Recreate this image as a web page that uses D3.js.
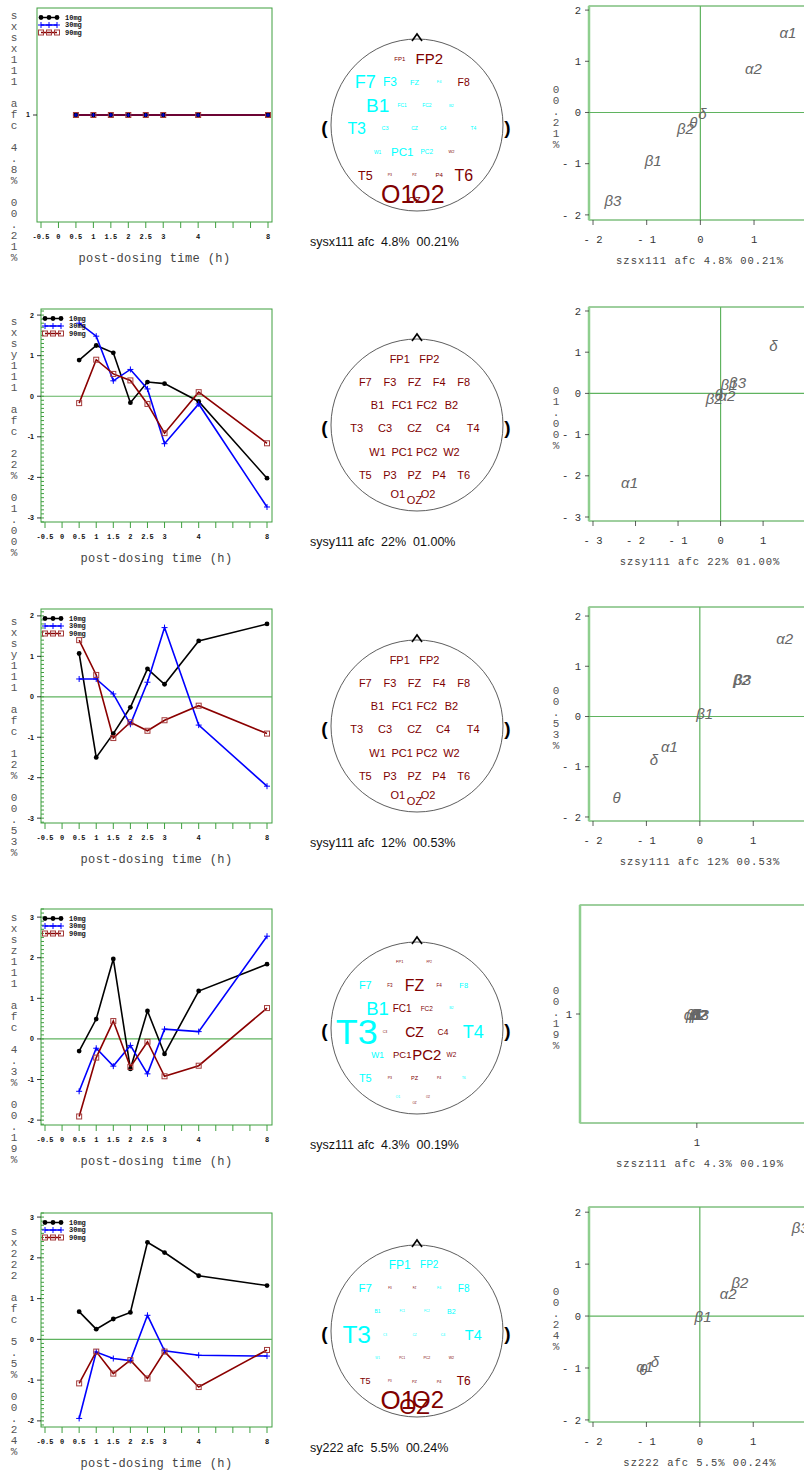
<!DOCTYPE html>
<html>
<head>
<meta charset="utf-8">
<script src="https://cdn.jsdelivr.net/npm/d3@7"></script>
<style>
body { margin: 0; background: #fff; }
svg { display: block; }
text { font-family: "Liberation Sans", Arial, sans-serif; }
.mono { font-family: "Liberation Mono", "DejaVu Sans Mono", monospace; }
</style>
</head>
<body>
<div id="chart"></div>
<script>
var w = 804, h = 1474;

// ---- time course data ----
var timeTicks = ["-0.5", "0", "0.5", "1", "1.5", "2", "2.5", "3", "", "4", "", "", "", "8"];
var times = ["0.5", "1", "1.5", "2", "2.5", "3", "4", "8"];
var doses = ["10mg", "30mg", "90mg"];

var r1_10mg = [1, 1, 1, 1, 1, 1, 1, 1];
var r1_30mg = [1, 1, 1, 1, 1, 1, 1, 1];
var r1_90mg = [1, 1, 1, 1, 1, 1, 1, 1];
var r2_10mg = [0.89, 1.25, 1.07, -0.16, 0.35, 0.31, -0.13, -2.02];
var r2_30mg = [1.80, 1.48, 0.38, 0.66, 0.18, -1.17, -0.19, -2.73];
var r2_90mg = [-0.17, 0.90, 0.55, 0.39, -0.19, -0.91, 0.10, -1.16];
var r3_10mg = [1.07, -1.50, -0.91, -0.26, 0.69, 0.31, 1.38, 1.80];
var r3_30mg = [0.44, 0.44, 0.07, -0.68, 0.36, 1.71, -0.70, -2.21];
var r3_90mg = [1.40, 0.54, -1.02, -0.63, -0.84, -0.58, -0.22, -0.91];
var r4_10mg = [-0.30, 0.49, 1.97, -0.74, 0.69, -0.37, 1.18, 1.84];
var r4_30mg = [-1.29, -0.23, -0.67, -0.16, -0.86, 0.24, 0.18, 2.53];
var r4_90mg = [-1.91, -0.46, 0.44, -0.69, -0.07, -0.92, -0.66, 0.76];
var r5_10mg = [0.68, 0.25, 0.50, 0.66, 2.38, 2.13, 1.56, 1.32];
var r5_30mg = [-1.94, -0.31, -0.47, -0.52, 0.59, -0.28, -0.39, -0.41];
var r5_90mg = [-1.08, -0.30, -0.84, -0.51, -0.96, -0.30, -1.17, -0.26];

var yTicks1 = [1];
var yTicks23 = [-3, -2, -1, 0, 1, 2];
var yTicks45 = [-2, -1, 0, 1, 2, 3];

// ---- names ----
var capNames = ["sysx111", "sysy111", "sysy111", "sysz111", "sy222"];
var yNames = ["sxsx111", "sxsy111", "sxsy111", "sxsz111", "sx222"];
var zNames = ["szsx111", "szsy111", "szsy111", "szsz111", "sz222"];
var pctA = ["4.8%", "22%", "12%", "4.3%", "5.5%"];
var pctB = ["00.21%", "01.00%", "00.53%", "00.19%", "00.24%"];

// ---- electrode weights (sign = colour, magnitude = label size) ----
var electrodes = ["FP1", "FP2", "F7", "F3", "FZ", "F4", "F8", "B1", "FC1", "FC2", "B2",
  "T3", "C3", "CZ", "C4", "T4", "W1", "PC1", "PC2", "W2", "T5", "P3", "PZ", "P4", "T6", "O1", "OZ", "O2"];
var head1 = [0.55, 1.36, -1.64, -1.09, -0.68, -0.36, 0.95, -1.73, -0.45, -0.45, -0.36,
  -1.45, -0.5, -0.45, -0.45, -0.45, -0.45, -1.05, -0.59, 0.36, 1.14, 0.32, 0.32, 0.55, 1.45, 2.27, 0.82, 2.27];
var head2 = [1, 1, 1, 1, 1, 1, 1, 1, 1, 1, 1, 1, 1, 1, 1, 1, 1, 1, 1, 1, 1, 1, 1, 1, 1, 1, 1, 1];
var head3 = [1, 1, 1, 1, 1, 1, 1, 1, 1, 1, 1, 1, 1, 1, 1, 1, 1, 1, 1, 1, 1, 1, 1, 1, 1, 1, 1, 1];
var head4 = [0.36, 0.27, -1.0, 0.41, 1.45, 0.41, -0.68, -1.68, 0.91, 0.59, -0.32,
  -3.27, 0.32, 1.27, 0.77, -1.64, -0.77, 0.86, 1.36, 0.59, -1.0, 0.32, 0.5, 0.32, -0.32, -0.32, 0.27, 0.27];
var head5 = [-1.09, -0.91, -1.05, 0.27, 0.27, -0.32, -0.91, -0.45, -0.27, -0.27, -0.64,
  -2.23, -0.27, -0.27, -0.32, -1.32, -0.27, 0.27, 0.32, 0.32, 0.82, 0.27, 0.36, 0.36, 1.09, 2.36, 2.0, 2.18];

// ---- factor map (right column) ----
var bands = ["α1", "α2", "β1", "β2", "β3", "δ", "θ"];
var s1x = [1.63, 0.99, -0.88, -0.28, -1.63, 0.04, -0.13];
var s1y = [1.55, 0.86, -0.94, -0.31, -1.73, -0.02, -0.20];
var s2x = [-2.14, 0.15, 0.20, -0.15, 0.40, 1.24, -0.05];
var s2y = [-2.16, -0.05, 0.20, -0.12, 0.25, 1.16, -0.03];
var s3x = [-0.57, 1.59, 0.09, 0.78, 0.80, -0.86, -1.56];
var s3y = [-0.61, 1.54, 0.06, 0.74, 0.73, -0.87, -1.62];
var s4x = [0.96, 1.02, 0.98, 1.01, 1.03, 1.0, 0.99];
var s4y = [0.99, 0.99, 0.99, 0.99, 0.99, 0.99, 0.99];
var s5x = [-1.03, 0.53, 0.06, 0.75, 1.88, -0.84, -1.06];
var s5y = [-0.98, 0.42, -0.02, 0.65, 1.71, -0.88, -1.04];

var sxTicks = [[-2, -1, 0, 1], [-3, -2, -1, 0, 1], [-2, -1, 0, 1], [1], [-2, -1, 0, 1]];
var syTicks = [[-2, -1, 0, 1, 2], [-3, -2, -1, 0, 1, 2], [-2, -1, 0, 1, 2], [1], [-2, -1, 0, 1, 2]];

// ---- layout ----
var leftLay = [
  { x0: 37, x1: 272, top: 8, bottom: 222, p0: 41, p1: 268, dom: [0, 2], minor: false },
  { x0: 41, x1: 272, top: 309, bottom: 522, p0: 45, p1: 267, dom: [-3.1, 2.15], minor: true },
  { x0: 41, x1: 272, top: 609, bottom: 823, p0: 45, p1: 267, dom: [-3.12, 2.17], minor: true },
  { x0: 41, x1: 272, top: 909, bottom: 1125, p0: 45, p1: 267, dom: [-2.12, 3.2], minor: true },
  { x0: 41, x1: 272, top: 1213, bottom: 1427, p0: 45, p1: 267, dom: [-2.15, 3.1], minor: true }
];
var headCy = [125, 425, 726, 1028, 1331];
var headCx = 417;
var rightLay = [
  { x0: 589, x1: 812, top: 6, bottom: 220, dx: [-2.075, 2.08], dy: [-2.1, 2.08], zero: true },
  { x0: 589, x1: 812, top: 307, bottom: 521, dx: [-3.094, 2.15], dy: [-3.097, 2.097], zero: true },
  { x0: 589, x1: 812, top: 607, bottom: 821, dx: [-2.075, 2.1], dy: [-2.08, 2.18], zero: true },
  { x0: 580, x1: 816, top: 905, bottom: 1123, dx: [0, 2.02], dy: [0, 2], zero: false },
  { x0: 589, x1: 812, top: 1207, bottom: 1422, dx: [-2.075, 2.1], dy: [-2.04, 2.1], zero: true }
];

var series = [
  [r1_10mg, r1_30mg, r1_90mg],
  [r2_10mg, r2_30mg, r2_90mg],
  [r3_10mg, r3_30mg, r3_90mg],
  [r4_10mg, r4_30mg, r4_90mg],
  [r5_10mg, r5_30mg, r5_90mg]
];
var yTickSets = [yTicks1, yTicks23, yTicks23, yTicks45, yTicks45];
var heads = [head1, head2, head3, head4, head5];
var scat = [[s1x, s1y], [s2x, s2y], [s3x, s3y], [s4x, s4y], [s5x, s5y]];

var doseColor = ["#000000", "#0000ff", "#8b0000"];
var doseMark = ["circle", "plus", "square"];
var green = "#3f9f3f";
var lightGreen = "#5fb35f";

var svg = d3.select("#chart").append("svg").attr("width", w).attr("height", h);

function stacked(g, str, x, cy, step, cls, size) {
  var chars = str.split("");
  var y0 = cy - (chars.length - 1) * step / 2;
  g.selectAll(null).data(chars).enter().append("text")
    .attr("class", cls)
    .attr("x", x)
    .attr("y", function(d, i) { return y0 + i * step; })
    .attr("dy", "0.35em")
    .attr("text-anchor", "middle")
    .attr("font-size", size)
    .attr("fill", "#555")
    .text(function(d) { return d; });
}

function marker(g, type, x, y, color) {
  if (type == "circle") {
    g.append("circle").attr("cx", x).attr("cy", y).attr("r", 2.4).attr("fill", color);
  } else if (type == "plus") {
    g.append("path").attr("d", "M" + (x - 3) + "," + y + "H" + (x + 3) + "M" + x + "," + (y - 3) + "V" + (y + 3))
      .attr("stroke", color).attr("stroke-width", 1);
  } else {
    g.append("rect").attr("x", x - 2.5).attr("y", y - 2.5).attr("width", 5).attr("height", 5)
      .attr("fill", "none").attr("stroke", "#a33a3a").attr("stroke-width", 1);
  }
}

function timeCourse(r) {
  var L = leftLay[r];
  var g = svg.append("g");
  var x = d3.scalePoint().domain(d3.range(timeTicks.length)).range([L.p0, L.p1]);
  var y = d3.scaleLinear().domain(L.dom).range([L.bottom, L.top]);
  var tx = function(t) { return x(timeTicks.indexOf(t)); };

  g.append("rect").attr("x", L.x0).attr("y", L.top).attr("width", L.x1 - L.x0).attr("height", L.bottom - L.top)
    .attr("fill", "none").attr("stroke", green).attr("stroke-width", 1);

  if (L.dom[0] < 0) {
    g.append("line").attr("x1", L.x0).attr("x2", L.x1).attr("y1", y(0)).attr("y2", y(0))
      .attr("stroke", lightGreen).attr("stroke-width", 1.2);
  }

  if (L.minor) {
    var minor = d3.range(Math.ceil(L.dom[0] * 10), Math.floor(L.dom[1] * 10) + 1).map(function(v) { return v / 10; });
    g.selectAll(null).data(minor).enter().append("line")
      .attr("x1", L.x0).attr("x2", L.x0 + 3)
      .attr("y1", function(d) { return y(d); }).attr("y2", function(d) { return y(d); })
      .attr("stroke", green).attr("stroke-width", 1);
  }

  var yt = yTickSets[r];
  g.selectAll(null).data(yt).enter().append("line")
    .attr("x1", L.x0 - 4).attr("x2", L.x0)
    .attr("y1", function(d) { return y(d); }).attr("y2", function(d) { return y(d); })
    .attr("stroke", "#000").attr("stroke-width", 0.8);
  g.selectAll(null).data(yt).enter().append("text")
    .attr("x", L.x0 - 7).attr("y", function(d) { return y(d); }).attr("dy", "0.35em")
    .attr("text-anchor", "end").attr("font-size", 7).attr("font-weight", "bold").attr("fill", "#111")
    .text(function(d) { return d; });

  // x axis
  g.selectAll(null).data(d3.range(timeTicks.length)).enter().append("line")
    .attr("x1", function(d) { return x(d); }).attr("x2", function(d) { return x(d); })
    .attr("y1", L.bottom).attr("y2", L.bottom + 6)
    .attr("stroke", green).attr("stroke-width", 1);
  g.selectAll(null).data(timeTicks.filter(function(t) { return t != ""; })).enter().append("text")
    .attr("class", "mono")
    .attr("x", function(d) { return tx(d); }).attr("y", L.bottom + 15).attr("dy", "0.35em")
    .attr("text-anchor", "middle").attr("font-size", 7).attr("font-weight", "bold").attr("fill", "#111")
    .text(function(d) { return d; });
  g.append("text").attr("class", "mono")
    .attr("x", (L.x0 + L.x1) / 2).attr("y", L.bottom + 36).attr("dy", "0.35em")
    .attr("text-anchor", "middle").attr("font-size", 12).attr("letter-spacing", 0.4).attr("fill", "#444")
    .text("post-dosing time (h)");

  stacked(g, yNames[r] + " afc " + pctA[r] + " " + pctB[r], 14, (L.top + L.bottom) / 2 + 21, 11, "mono", 11);

  // lines
  var line = d3.line().x(function(d, i) { return tx(times[i]); }).y(function(d) { return y(d); });
  series[r].forEach(function(vals, k) {
    g.append("path").datum(vals).attr("d", line)
      .attr("fill", "none").attr("stroke", doseColor[k]).attr("stroke-width", 1.6);
  });
  series[r].forEach(function(vals, k) {
    vals.forEach(function(v, i) { marker(g, doseMark[k], tx(times[i]), y(v), doseColor[k]); });
  });

  // legend
  doses.forEach(function(d, k) {
    var ly = L.top + 9.5 + k * 7.5;
    var lx = L.x0 + 4;
    g.append("line").attr("x1", lx).attr("x2", lx + 16).attr("y1", ly).attr("y2", ly)
      .attr("stroke", doseColor[k]).attr("stroke-width", 1.5);
    [0, 8, 16].forEach(function(o) { marker(g, doseMark[k], lx + o, ly, doseColor[k]); });
    g.append("text").attr("class", "mono").attr("x", lx + 24).attr("y", ly).attr("dy", "0.35em")
      .attr("font-size", 7).attr("font-weight", "bold").attr("fill", "#111").text(d);
  });
}

// montage grid: column, row in electrode spacing units
var montage = {
  FP1: [-0.6, -3], FP2: [0.6, -3],
  F7: [-2, -2], F3: [-1, -2], FZ: [0, -2], F4: [1, -2], F8: [2, -2],
  B1: [-1.5, -1], FC1: [-0.5, -1], FC2: [0.5, -1], B2: [1.5, -1],
  T3: [-2.35, 0], C3: [-1.2, 0], CZ: [0, 0], C4: [1.16, 0], T4: [2.39, 0],
  W1: [-1.5, 1], PC1: [-0.5, 1], PC2: [0.5, 1], W2: [1.5, 1],
  T5: [-2, 2], P3: [-1, 2], PZ: [0, 2], P4: [1, 2], T6: [2, 2],
  O1: [-0.68, 2.8], OZ: [0, 3.07], O2: [0.55, 2.8]
};

function headMap(r) {
  var cx = headCx, cy = headCy[r];
  var g = svg.append("g");
  var col = d3.scaleLinear().domain([0, 1]).range([cx - 2.5, cx + 22.1]);
  var row = d3.scaleLinear().domain([0, 1]).range([cy + 3.5, cy + 26.8]);
  var size = d3.scaleLinear().domain([0, 1]).range([0, 11]);

  g.append("circle").attr("cx", cx).attr("cy", cy).attr("r", 86)
    .attr("fill", "none").attr("stroke", "#333").attr("stroke-width", 0.8);
  g.append("path").attr("d", "M" + (cx - 5) + "," + (cy - 84) + "L" + cx + "," + (cy - 91) + "L" + (cx + 5) + "," + (cy - 84))
    .attr("fill", "none").attr("stroke", "#000").attr("stroke-width", 1.6);
  g.append("text").attr("x", cx - 92.5).attr("y", cy + 2).attr("dy", "0.35em").attr("text-anchor", "middle")
    .attr("font-size", 19).attr("font-weight", "bold").text("(");
  g.append("text").attr("x", cx + 90.5).attr("y", cy + 2).attr("dy", "0.35em").attr("text-anchor", "middle")
    .attr("font-size", 19).attr("font-weight", "bold").text(")");

  g.selectAll(null).data(electrodes).enter().append("text")
    .attr("x", function(d) { return col(montage[d][0]); })
    .attr("y", function(d) { return row(montage[d][1]); })
    .attr("dy", "0.36em").attr("text-anchor", "middle")
    .attr("font-size", function(d, i) { return size(Math.abs(heads[r][i])); })
    .attr("fill", function(d, i) { return heads[r][i] >= 0 ? "#800000" : "#00ffff"; })
    .text(function(d) { return d; });

  g.append("text").attr("x", cx - 107).attr("y", cy + 121)
    .attr("font-size", 12.5).attr("fill", "#111").style("white-space", "pre")
    .text(capNames[r] + " afc  " + pctA[r] + "  " + pctB[r]);
}

function factorMap(r) {
  var R = rightLay[r];
  var g = svg.append("g");
  var x = d3.scaleLinear().domain(R.dx).range([R.x0, R.x1]);
  var y = d3.scaleLinear().domain(R.dy).range([R.bottom, R.top]);

  g.append("rect").attr("x", R.x0).attr("y", R.top).attr("width", R.x1 - R.x0).attr("height", R.bottom - R.top)
    .attr("fill", "none").attr("stroke", green).attr("stroke-width", 1);
  g.append("line").attr("x1", R.x0).attr("x2", R.x0).attr("y1", R.top).attr("y2", R.bottom)
    .attr("stroke", "#8fcf8f").attr("stroke-width", 2.5);
  if (R.zero) {
    g.append("line").attr("x1", R.x0).attr("x2", R.x1).attr("y1", y(0)).attr("y2", y(0))
      .attr("stroke", lightGreen).attr("stroke-width", 1.2);
    g.append("line").attr("x1", x(0)).attr("x2", x(0)).attr("y1", R.top).attr("y2", R.bottom)
      .attr("stroke", lightGreen).attr("stroke-width", 1.2);
  }

  g.selectAll(null).data(syTicks[r]).enter().append("line")
    .attr("x1", R.x0 - 4).attr("x2", R.x0)
    .attr("y1", function(d) { return y(d); }).attr("y2", function(d) { return y(d); })
    .attr("stroke", "#333").attr("stroke-width", 0.8);
  g.selectAll(null).data(syTicks[r]).enter().append("text").attr("class", "mono")
    .attr("x", R.x0 - 8).attr("y", function(d) { return y(d); }).attr("dy", "0.35em")
    .attr("text-anchor", "end").attr("font-size", 10.5).attr("fill", "#333").style("white-space", "pre")
    .text(function(d) { return d < 0 ? "- " + (-d) : d; });
  g.selectAll(null).data(sxTicks[r]).enter().append("line")
    .attr("x1", function(d) { return x(d); }).attr("x2", function(d) { return x(d); })
    .attr("y1", R.bottom).attr("y2", R.bottom + 5)
    .attr("stroke", "#333").attr("stroke-width", 0.8);
  g.selectAll(null).data(sxTicks[r]).enter().append("text").attr("class", "mono")
    .attr("x", function(d) { return x(d); }).attr("y", R.bottom + 19).attr("dy", "0.35em")
    .attr("text-anchor", "middle").attr("font-size", 10.5).attr("fill", "#333").style("white-space", "pre")
    .text(function(d) { return d < 0 ? "- " + (-d) : d; });

  g.append("text").attr("class", "mono")
    .attr("x", 700).attr("y", R.bottom + 40).attr("dy", "0.35em")
    .attr("text-anchor", "middle").attr("font-size", 10.5).attr("letter-spacing", 1.0).attr("fill", "#444")
    .text(zNames[r] + " afc " + pctA[r] + " " + pctB[r]);
  stacked(g, pctB[r], 556, (R.top + R.bottom) / 2 + 4, 11, "mono", 11);

  var xs = scat[r][0], ys = scat[r][1];
  g.selectAll(null).data(bands).enter().append("text")
    .attr("x", function(d, i) { return x(xs[i]); })
    .attr("y", function(d, i) { return y(ys[i]); })
    .attr("dy", "0.35em").attr("text-anchor", "middle")
    .attr("font-style", "italic")
    .attr("font-size", 15).attr("fill", "#666")
    .text(function(d) { return d; });
}

for (var r = 0; r < 5; r++) {
  timeCourse(r);
  headMap(r);
  factorMap(r);
}
</script>
</body>
</html>
